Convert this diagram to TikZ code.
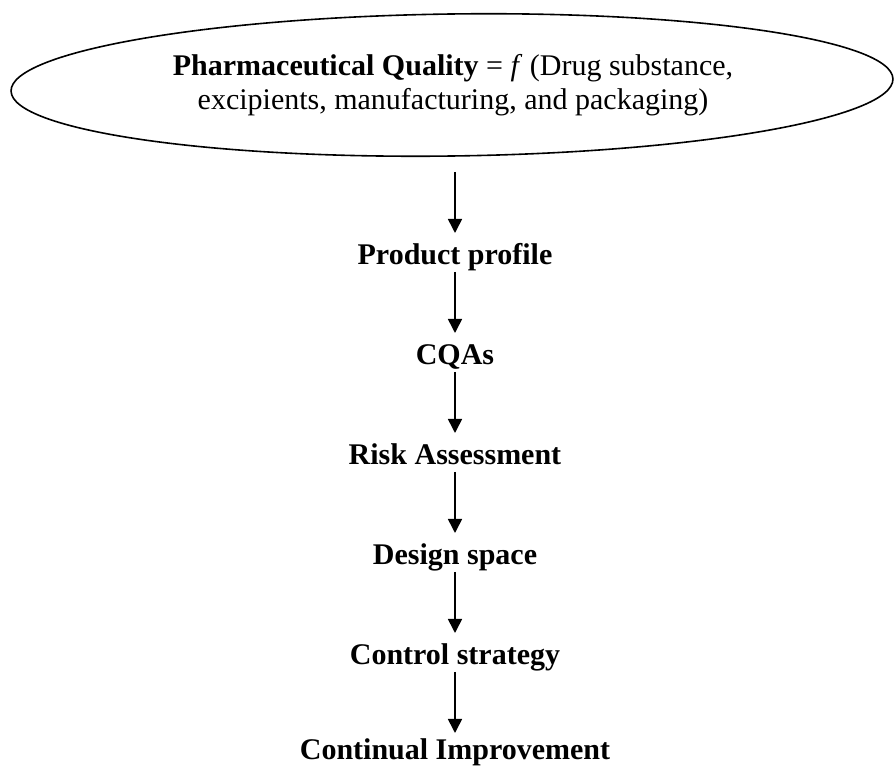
\documentclass[tikz,border=0pt]{standalone}
\usepackage{fontspec}
\setmainfont{Liberation Serif}
\usetikzlibrary{arrows.meta}
\begin{document}
\begin{tikzpicture}[x=1pt,y=1pt,
  lbl/.style={anchor=base, inner sep=0pt, font=\fontsize{30}{34}\selectfont\bfseries},
  ttl/.style={anchor=base, inner sep=0pt, font=\fontsize{30}{34}\selectfont},
  arr/.style={line width=1.6pt, -{Triangle[width=14pt,length=14pt]}}]
\useasboundingbox (0,0) rectangle (894,768);
\draw[line width=1.6pt, rotate around={0.78:(452,683)}] (452,683) ellipse [x radius=441, y radius=71];
\node[ttl] (topA) at (453,692) {\textbf{Pharmaceutical Quality} = \textit{f} (Drug substance,};
\node[ttl] (topB) at (453,658) {excipients, manufacturing, and packaging)};
\coordinate (ellbot) at (455,613);
\node[lbl] (pp) at (455,503) {Product profile};
\node[lbl] (cqa) at (455,403) {CQAs};
\node[lbl] (risk) at (455,303) {Risk Assessment};
\node[lbl] (ds) at (455,203) {Design space};
\node[lbl] (cs) at (455,103) {Control strategy};
\node[lbl] (ci) at (455,8) {Continual Improvement};
\draw[arr] ([yshift=-17pt]ellbot) -- ([yshift=32pt]pp.base);
\draw[arr] ([yshift=-7pt]pp.base) -- ([yshift=32pt]cqa.base);
\draw[arr] ([yshift=-7pt]cqa.base) -- ([yshift=32pt]risk.base);
\draw[arr] ([yshift=-7pt]risk.base) -- ([yshift=32pt]ds.base);
\draw[arr] ([yshift=-7pt]ds.base) -- ([yshift=32pt]cs.base);
\draw[arr] ([yshift=-7pt]cs.base) -- ([yshift=27pt]ci.base);
\end{tikzpicture}
\end{document}
